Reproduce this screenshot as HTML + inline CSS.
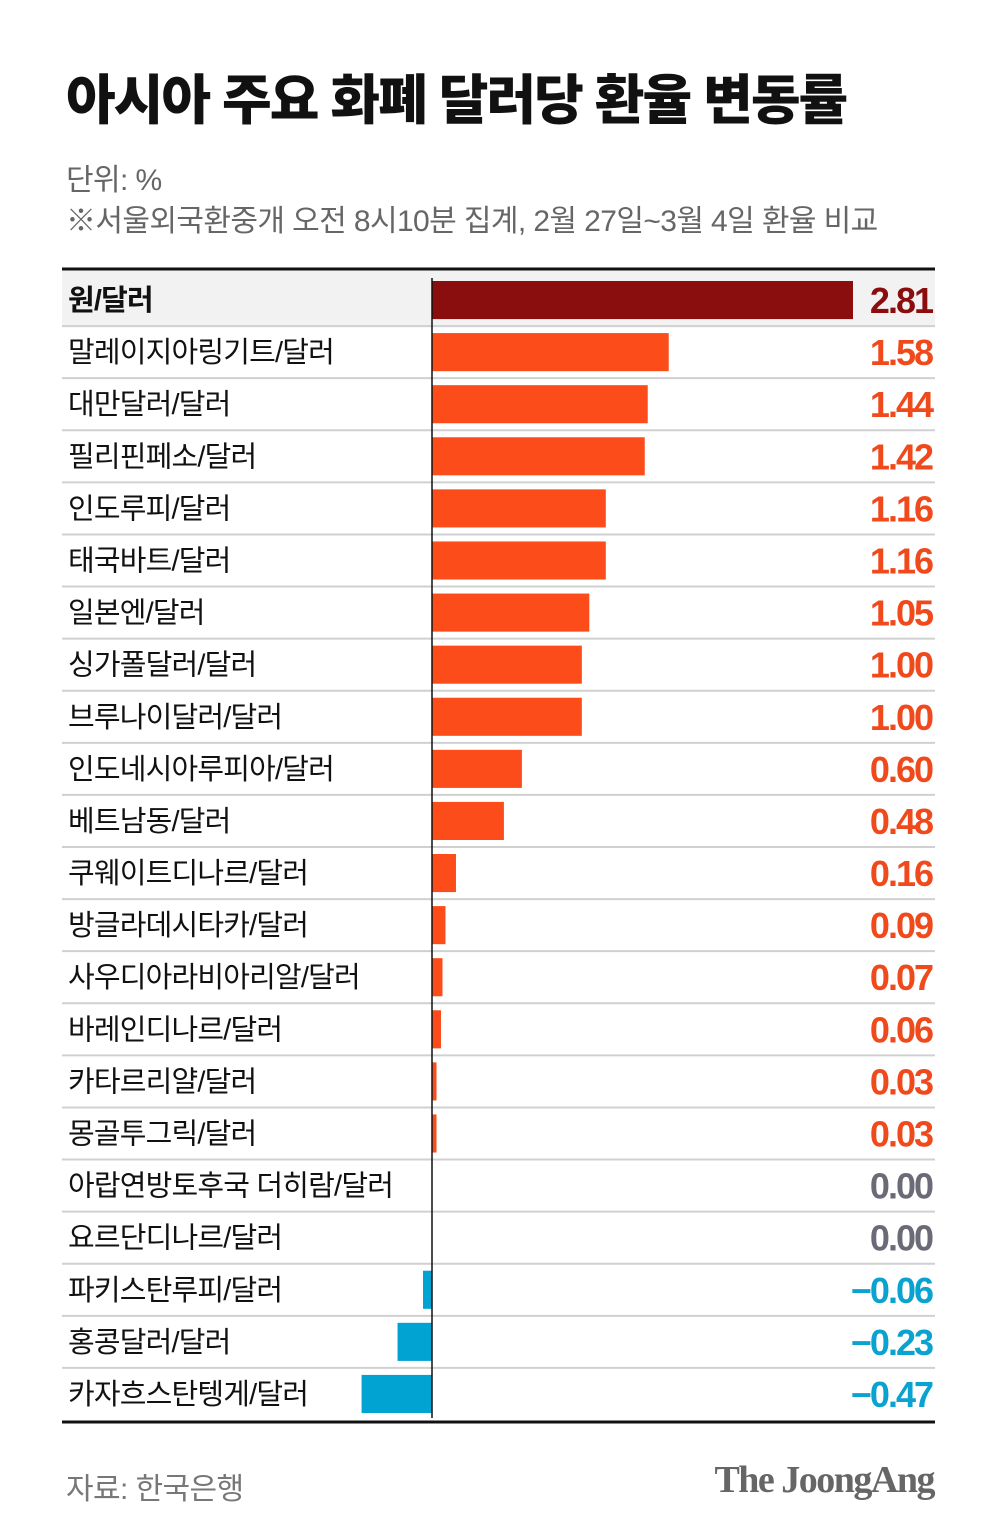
<!DOCTYPE html>
<html><head><meta charset="utf-8">
<style>
body{margin:0;background:#fff;width:1000px;height:1540px;overflow:hidden;font-family:"Liberation Sans","Noto Sans CJK KR",sans-serif;}
.t{position:absolute;left:66px;top:56px;font-size:54px;font-weight:900;color:#111;letter-spacing:-2px;margin:0}
.s{position:absolute;left:66px;font-size:30px;color:#666;letter-spacing:-0.6px}
</style></head><body>
<h1 class="t">아시아 주요 화폐 달러당 환율 변동률</h1>
<div class="s" style="top:155px">단위: %</div>
<div class="s" style="top:196px">※서울외국환중개 오전 8시10분 집계, 2월 27일~3월 4일 환율 비교</div>
<svg id="c" width="1000" height="1540" style="position:absolute;left:0;top:0"></svg>
<div class="s" style="top:1464px;color:#777">자료: 한국은행</div>
<div style="position:absolute;right:66px;top:1458px;font-family:'Liberation Serif',serif;font-weight:bold;font-size:38px;color:#666;letter-spacing:-1.5px">The JoongAng</div>
<script>
const categories=["원/달러","말레이지아링기트/달러","대만달러/달러","필리핀페소/달러","인도루피/달러","태국바트/달러","일본엔/달러","싱가폴달러/달러","브루나이달러/달러","인도네시아루피아/달러","베트남동/달러","쿠웨이트디나르/달러","방글라데시타카/달러","사우디아라비아리알/달러","바레인디나르/달러","카타르리얄/달러","몽골투그릭/달러","아랍연방토후국 더히람/달러","요르단디나르/달러","파키스탄루피/달러","홍콩달러/달러","카자흐스탄텡게/달러"];
const values=[2.81,1.58,1.44,1.42,1.16,1.16,1.05,1.00,1.00,0.60,0.48,0.16,0.09,0.07,0.06,0.03,0.03,0.00,0.00,-0.06,-0.23,-0.47];
const valueLabels=["2.81","1.58","1.44","1.42","1.16","1.16","1.05","1.00","1.00","0.60","0.48","0.16","0.09","0.07","0.06","0.03","0.03","0.00","0.00","−0.06","−0.23","−0.47"];
const svg=document.getElementById('c'),NS='http://www.w3.org/2000/svg';
const x0=432,k=421/2.81,top0=274,rowH=(1420-274)/22;
const x=v=>x0+v*k, y=i=>top0+i*rowH;
function mk(t,a){const e=document.createElementNS(NS,t);for(const n in a)e.setAttribute(n,a[n]);svg.appendChild(e);return e;}
const hl=mk('rect',{x:62,y:270,width:873,height:y(1)-270,fill:'#f2f2f2'});


categories.forEach((c,i)=>{
  const v=values[i];
  if(i>0){const l=mk('line',{x1:62,x2:935,y1:y(i),y2:y(i),stroke:'#d0d0d0','stroke-width':2});
    
    }
  const col=i==0?'#8b0e0e':v>0?'#fc4c1a':'#00a3d1';
  const b=mk('rect',{x:Math.min(x(v),x0),y:y(i)+7,width:Math.abs(x(v)-x0),height:rowH-14,fill:col});
  
  
  const t=mk('text',{x:68,y:y(i)+rowH/2+10,'font-size':29,fill:'#111','font-weight':i==0?'bold':'normal','letter-spacing':-0.8});
  t.textContent=c;
  
  
  const tc=i==0?'#8b0e0e':v>0?'#f04a1c':v<0?'#0aa3cf':'#6b6b78';
  const vt=mk('text',{x:932,y:y(i)+rowH/2+13,'font-size':36,'font-weight':'bold','text-anchor':'end',fill:tc,'letter-spacing':-2});
  vt.textContent=valueLabels[i];
  
  
});
const z=mk('line',{x1:x0,x2:x0,y1:278,y2:1418,stroke:'#111','stroke-width':1.5});


const tl=mk('line',{x1:62,x2:935,y1:269,y2:269,stroke:'#111','stroke-width':3});


const bl=mk('line',{x1:62,x2:935,y1:1422,y2:1422,stroke:'#111','stroke-width':3});


</script>
</body></html>
